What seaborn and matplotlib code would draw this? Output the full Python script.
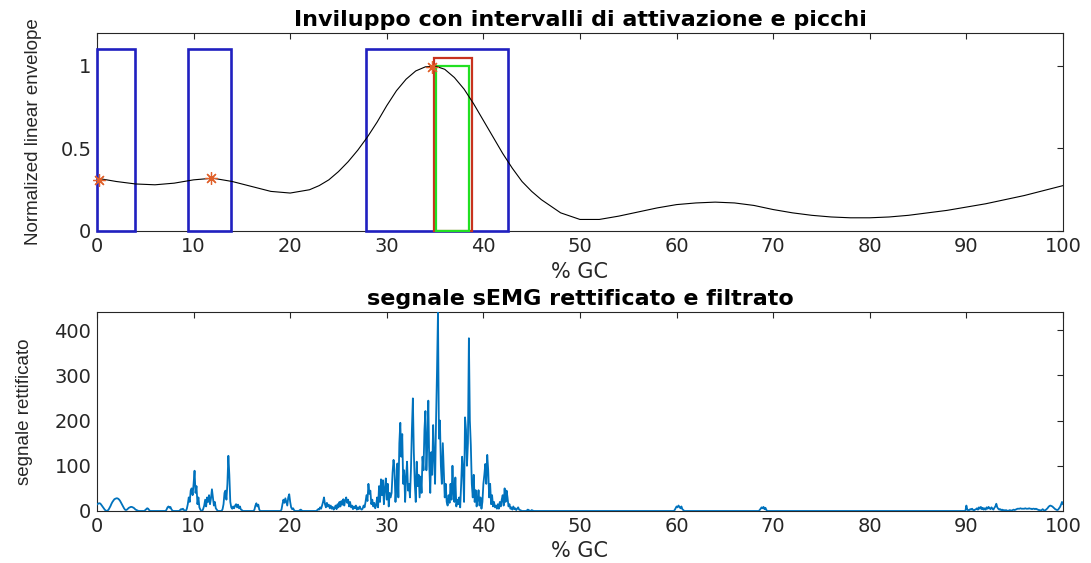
import numpy as np
import matplotlib
matplotlib.use("Agg")
import matplotlib.pyplot as plt
from matplotlib.patches import Rectangle
import seaborn as sns

# ---------------- data ----------------
# normalized linear envelope (% gait cycle vs. amplitude)
env_x = [0, 2, 4, 6, 8, 10, 12, 14, 16, 18, 20, 22, 23, 24, 25, 26, 27, 28, 29,
         30, 31, 32, 33, 34, 35, 36, 37, 38, 39, 40, 41, 42, 43, 44, 45, 46, 48,
         50, 52, 54, 56, 58, 60, 62, 64, 66, 68, 70, 72, 74, 76, 78, 80, 82, 84,
         86, 88, 90, 92, 94, 96, 98, 100]
env_y = [0.32, 0.30, 0.285, 0.28, 0.29, 0.31, 0.32, 0.30, 0.27, 0.24, 0.23, 0.25,
         0.275, 0.31, 0.36, 0.42, 0.49, 0.57, 0.66, 0.76, 0.85, 0.92, 0.97, 0.995,
         1.0, 0.98, 0.93, 0.86, 0.77, 0.67, 0.57, 0.47, 0.38, 0.30, 0.24, 0.19,
         0.11, 0.07, 0.07, 0.09, 0.115, 0.14, 0.16, 0.17, 0.175, 0.17, 0.155, 0.13,
         0.11, 0.095, 0.085, 0.08, 0.08, 0.085, 0.095, 0.11, 0.125, 0.145, 0.165,
         0.19, 0.215, 0.245, 0.275]

# detected envelope peaks
peak_x = [0.25, 11.8, 34.65]
peak_y = [0.31, 0.32, 0.995]

# activation intervals (blue), main-peak window (red), reference window (green)
act_start = [0.0, 9.4, 27.85]
act_end = [3.95, 13.9, 42.5]
act_height = 1.1
main_start, main_end, main_height = 34.9, 38.85, 1.05
ref_start, ref_end, ref_height = 35.1, 38.5, 1.0

# rectified and filtered sEMG, sampled every 0.1 % GC; bursts given as
# (start, samples), everything else is at rest (0)
emg_step = 0.1
burst_onset = [14, 16, 17, 17, 15, 12, 9, 6, 3, 1, 0, 1, 3, 7, 11, 16, 20, 23, 26, 27,
               28, 28, 27, 25, 22, 18, 14, 10, 6, 3, 2, 3, 5, 7, 8, 9, 9, 8, 7, 5,
               3, 2, 1, 0, 0, 0, 0, 0, 0, 0, 2, 4, 6, 5, 2, 0]
burst_07 = [3, 8, 10, 7, 9, 4, 1, 0, 0, 0, 0, 0, 0, 0, 2, 4, 3, 5, 2, 1, 0]
burst_09 = [5, 15, 30, 20, 45, 50, 35, 60, 89, 40, 55, 15, 30, 8, 3, 0, 0, 5, 12, 25,
            10, 30, 20, 35, 15, 28, 48, 30, 12, 20, 6, 3]
burst_13 = [4, 15, 40, 45, 25, 60, 122, 80, 20, 8, 5, 10, 6, 12, 15, 8, 14, 6, 10, 3, 2]
burst_16 = [3, 12, 17, 10, 14, 3]
burst_19 = [3, 15, 25, 18, 28, 20, 12, 30, 37, 20, 8, 4, 6, 2]
burst_21 = [2, 3, 1]
burst_23 = [2, 4, 3, 8, 5, 12, 20, 30, 15, 8, 18, 10, 14, 6, 12, 5, 9, 3, 6, 12,
            4, 15, 8, 20, 10, 22, 14, 26, 12, 24, 30, 18, 25, 10, 20, 8, 12, 4, 10, 6,
            12, 3, 8, 4, 10, 5, 3]
burst_main = [5, 12, 8, 20, 35, 22, 60, 38, 45, 15,
              25, 10, 18, 6, 12, 30, 8, 55, 20, 70,
              35, 68, 15, 50, 72, 25, 60, 10, 40, 30,
              40, 85, 113, 90, 20, 60, 105, 30, 150, 195,
              120, 170, 60, 90, 20, 75, 109, 45, 60, 30,
              90, 180, 249, 130, 60, 20, 109, 55, 80, 30,
              76, 40, 120, 90, 180, 221, 90, 150, 244, 100,
              40, 130, 80, 190, 120, 60, 200, 310, 440, 160,
              200, 100, 60, 150, 90, 30, 60, 20, 12, 35,
              18, 60, 25, 100, 40, 20, 74, 10, 25, 15,
              30, 8, 60, 120, 90, 20, 207, 180, 100, 150,
              382, 200, 146, 60, 30, 80, 20, 46, 10, 25,
              46, 12, 30, 5, 20, 60, 80, 104, 60, 124,
              90, 30, 60, 15, 35, 10, 20, 8, 12, 5,
              15, 5, 20, 10, 25, 35, 12, 50, 20, 45,
              30, 10, 15, 5, 8, 3, 10, 4, 6, 2,
              5, 8, 3, 2, 1, 0]
burst_45 = [1, 3, 2, 0, 0, 2, 1]
burst_60 = [2, 6, 10, 8, 12, 9, 6, 10, 4, 2]
burst_69 = [2, 5, 8, 6, 9, 4, 7, 2]
burst_90 = [12, 3, 1, 2, 4, 3, 5, 2, 1, 3,
            4, 6, 3, 8, 5, 9, 4, 7, 3, 6,
            3, 8, 5, 9, 6, 4, 8, 5, 3, 7,
            10, 16, 8, 5, 3, 4, 2, 3, 1, 2,
            1, 2, 1, 0, 1, 2, 1, 1, 2, 3,
            2, 3, 4, 5, 5, 5, 6, 5, 5, 5,
            5, 6, 5, 5, 5, 6, 5, 5, 4, 5,
            5, 4, 5, 4, 3, 2, 2, 1, 2, 4,
            2, 1, 2, 4, 6, 9, 11, 12, 11, 10,
            8, 6, 4, 3, 2, 3, 6, 9, 14, 20,
            15]
burst_starts = [0.0, 7.2, 9.3, 13.0, 16.3, 19.1, 21.0, 22.8, 27.5, 44.5, 59.8, 68.6, 90.0]
bursts = [burst_onset, burst_07, burst_09, burst_13, burst_16, burst_19, burst_21,
          burst_23, burst_main, burst_45, burst_60, burst_69, burst_90]

x_ticks = [0, 10, 20, 30, 40, 50, 60, 70, 80, 90, 100]
env_yticks = [0, 0.5, 1]
emg_yticks = [0, 100, 200, 300, 400]

# assemble the sEMG trace
n_samples = int(round(100 / emg_step)) + 1
emg_x = np.round(np.arange(n_samples) * emg_step, 1)
emg_y = np.zeros(n_samples)
for start, samples in zip(burst_starts, bursts):
    i0 = int(round(start / emg_step))
    emg_y[i0:i0 + len(samples)] = samples

# ---------------- style ----------------
sns.set_style("white")
plt.rcParams["font.family"] = ["DejaVu Sans"]
axis_color = "#262626"
plt.rcParams.update({
    "axes.edgecolor": axis_color,
    "axes.linewidth": 0.8,
    "xtick.color": axis_color,
    "ytick.color": axis_color,
    "xtick.direction": "in",
    "ytick.direction": "in",
    "xtick.top": True,
    "ytick.right": True,
})

fig = plt.figure(figsize=(10.91, 5.63), dpi=100)
ax1 = fig.add_axes([0.0889, 0.5897, 0.8854, 0.3517])
ax2 = fig.add_axes([0.0889, 0.0924, 0.8854, 0.3534])

label_font = ["Liberation Sans Narrow", "Liberation Sans"]

# ---- envelope panel ----
for s, e in zip(act_start, act_end):
    ax1.add_patch(Rectangle((s, 0), e - s, act_height, fill=False,
                            edgecolor="#2020c0", linewidth=1.9, clip_on=False, zorder=3))
ax1.add_patch(Rectangle((main_start, 0), main_end - main_start, main_height, fill=False,
                        edgecolor="#c8321e", linewidth=1.6, clip_on=False, zorder=3))
ax1.add_patch(Rectangle((ref_start, 0), ref_end - ref_start, ref_height, fill=False,
                        edgecolor="#22e022", linewidth=1.6, clip_on=False, zorder=3))

sns.lineplot(x=env_x, y=env_y, ax=ax1, color="black", linewidth=0.8,
             estimator=None, zorder=4)
ax1.plot(peak_x, peak_y, linestyle="none", marker=(8, 2, 0), markersize=9,
         markeredgewidth=0.9, color="#E0602A", zorder=5, clip_on=False)

ax1.set_xlim(0, 100)
ax1.set_ylim(0, 1.2)
ax1.set_xticks(x_ticks)
ax1.set_yticks(env_yticks)
ax1.set_yticklabels(["0", "0.5", "1"])
ax1.set_title("Inviluppo con intervalli di attivazione e picchi",
              fontsize=16, fontweight="bold", color="black", pad=5)
ax1.set_xlabel("% GC", fontsize=15, color=axis_color, labelpad=5)
ax1.set_ylabel("Normalized linear envelope", fontsize=13.5, color=axis_color,
               family=label_font)
ax1.yaxis.set_label_coords(-0.057, 0.5)

# ---- sEMG panel ----
sns.lineplot(x=emg_x, y=emg_y, ax=ax2, color="#0072BD", linewidth=1.3,
             estimator=None, zorder=3)
ax2.set_xlim(0, 100)
ax2.set_ylim(0, 440)
ax2.set_xticks(x_ticks)
ax2.set_yticks(emg_yticks)
ax2.set_title("segnale sEMG rettificato e filtrato",
              fontsize=16, fontweight="bold", color="black", pad=5)
ax2.set_xlabel("% GC", fontsize=15, color=axis_color, labelpad=4)
ax2.set_ylabel("segnale rettificato", fontsize=13.5, color=axis_color,
               family=label_font)
ax2.yaxis.set_label_coords(-0.066, 0.5)

for ax in (ax1, ax2):
    ax.tick_params(axis="both", which="major", labelsize=14, length=4, width=0.8, pad=4)
    for side in ("top", "right", "bottom", "left"):
        ax.spines[side].set_visible(True)
        ax.spines[side].set_color(axis_color)

fig.savefig("out.png", dpi=100, facecolor="white")
